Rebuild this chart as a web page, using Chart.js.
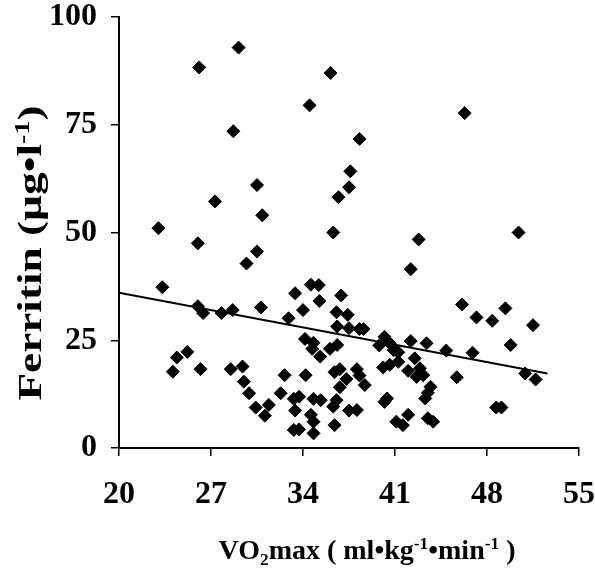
<!DOCTYPE html>
<html>
<head>
<meta charset="utf-8">
<script src="https://cdn.jsdelivr.net/npm/chart.js@4/dist/chart.umd.min.js"></script>
<style>
  html, body { margin: 0; padding: 0; background: #fff; }
  #wrap { width: 595px; height: 568px; }
</style>
</head>
<body>
<div id="wrap"><canvas id="ferritinChart"></canvas></div>
<script>
// values
const vo2max = [
  29.1, 26.1, 36.1, 34.5, 28.7, 38.3, 37.6, 37.5, 36.7, 30.5,
  27.3, 30.9, 23.0, 36.3, 26.0, 30.5, 29.7, 23.3, 33.4, 34.6,
  35.2, 36.9, 35.25, 34.0, 30.8, 28.65, 27.8, 26.0, 26.4, 32.9,
  36.55, 37.4, 36.6, 37.5, 38.3, 38.6, 34.15, 34.8, 34.7, 35.3,
  36.05, 36.6, 25.2, 24.4, 24.1, 26.2, 28.5, 29.4, 29.5, 29.9,
  30.4, 31.4, 31.1, 32.6, 32.3, 33.3, 33.7, 33.4, 34.2, 34.8,
  35.35, 34.6, 34.8, 33.3, 33.7, 34.8, 36.4, 36.8, 37.3, 36.8,
  36.55, 36.3, 36.4, 37.5, 38.1, 38.1, 38.3, 38.7, 42.8, 42.2,
  50.4, 46.1, 47.2, 48.4, 49.4, 51.5, 49.8, 50.9, 51.7, 45.7,
  46.9, 44.9, 43.4, 42.2, 40.2, 39.8, 40.6, 40.9, 41.25, 41.25,
  40.1, 40.6, 42.5, 42.0, 42.9, 42.65, 43.15, 43.7, 43.5, 43.3,
  40.4, 40.2, 41.1, 41.6, 42.0, 43.5, 43.9, 48.7, 49.1, 46.3
];
const ferritin = [
  92.9, 88.3, 87.0, 79.5, 73.5, 71.7, 64.2, 60.5, 58.2, 61.0,
  57.2, 54.0, 51.0, 50.0, 47.5, 45.6, 42.8, 37.3, 35.9, 37.9,
  37.8, 35.4, 34.1, 32.0, 32.6, 32.0, 31.3, 32.9, 31.3, 30.1,
  31.5, 30.9, 28.2, 27.8, 27.6, 27.6, 25.3, 24.4, 23.0, 21.2,
  23.0, 23.9, 22.3, 21.0, 17.7, 18.3, 18.3, 18.9, 15.4, 12.7,
  9.4, 10.0, 7.5, 16.9, 12.7, 11.4, 11.9, 8.7, 16.9, 11.4,
  11.1, 7.7, 6.1, 4.2, 4.3, 3.4, 17.6, 18.3, 16.0, 14.1,
  11.1, 9.6, 5.3, 8.7, 8.8, 18.3, 16.8, 14.6, 48.4, 41.5,
  50.0, 33.3, 30.3, 29.5, 32.4, 28.5, 23.9, 17.3, 15.9, 16.4,
  22.1, 22.6, 24.3, 24.8, 25.8, 23.8, 24.3, 22.7, 22.2, 20.0,
  18.7, 19.3, 20.8, 17.9, 18.5, 16.5, 16.9, 14.2, 12.8, 11.5,
  11.5, 10.7, 6.1, 5.3, 7.7, 6.9, 6.1, 9.4, 9.4, 77.7
];
const trendX = [20, 52.6];
const trendY = [36.0, 17.3];
const xTicks = [20, 27, 34, 41, 48, 55];
const yTicks = [0, 25, 50, 75, 100];

// title pieces: [text, shift]  shift 1 = superscript, -1 = subscript
const xTitle = [['VO', 0], ['2', -1], ['max ( ml•kg', 0], ['-1', 1], ['•min', 0], ['-1', 1], [' )', 0]];
const yTitle = [['Ferritin (µg•l', 0], ['-1', 1], [')', 0]];

const FONT = '"Liberation Serif", "Times New Roman", serif';

function drawRich(ctx, parts, size) {
  const small = size * 0.62;
  let total = 0;
  parts.forEach(([t, s]) => {
    ctx.font = `bold ${s ? small : size}px ${FONT}`;
    total += ctx.measureText(t).width;
  });
  let x = -total / 2;
  parts.forEach(([t, s]) => {
    ctx.font = `bold ${s ? small : size}px ${FONT}`;
    const dy = s === 1 ? -size * 0.36 : s === -1 ? size * 0.2 : 0;
    ctx.fillText(t, x, dy);
    x += ctx.measureText(t).width;
  });
}

const axisTitles = {
  id: 'axisTitles',
  afterDraw(chart) {
    const { ctx, chartArea } = chart;
    ctx.save();
    ctx.fillStyle = '#000';
    ctx.textBaseline = 'alphabetic';
    ctx.textAlign = 'left';
    ctx.translate(chartArea.left + 248, chartArea.bottom + 111);
    drawRich(ctx, xTitle, 28);
    ctx.restore();

    // y title, stretched along its length as in the original
    ctx.save();
    ctx.fillStyle = '#000';
    ctx.textBaseline = 'alphabetic';
    ctx.textAlign = 'left';
    ctx.translate(41, 253);
    ctx.rotate(-Math.PI / 2);
    ctx.scale(1.33, 1);
    drawRich(ctx, yTitle, 34);
    ctx.restore();
  }
};

const tickFont = { family: FONT, size: 32, weight: 'bold' };

new Chart(document.getElementById('ferritinChart'), {
  type: 'scatter',
  data: {
    datasets: [
      {
        label: 'Ferritin',
        data: vo2max.map((v, i) => ({ x: v, y: ferritin[i] })),
        pointStyle: 'rectRot',
        pointRadius: 6.5,
        backgroundColor: '#000',
        borderColor: '#000',
        borderWidth: 1
      },
      {
        type: 'line',
        label: 'Trend',
        data: trendX.map((v, i) => ({ x: v, y: trendY[i] })),
        borderColor: '#000',
        borderWidth: 2,
        pointRadius: 0,
        fill: false
      }
    ]
  },
  options: {
    responsive: true,
    maintainAspectRatio: false,
    animation: false,
    layout: { padding: { top: 17, right: 16, left: 0, bottom: 0 } },
    plugins: { legend: { display: false }, tooltip: { enabled: false } },
    scales: {
      x: {
        min: 20,
        max: 55,
        afterBuildTicks: s => { s.ticks = xTicks.map(v => ({ value: v })); },
        afterFit: s => { s.height = 120; s.paddingLeft = 0; s.paddingRight = 0; },
        grid: { drawOnChartArea: false, drawTicks: true, tickLength: 8, color: '#000', lineWidth: 1.5 },
        border: { color: '#000', width: 2 },
        ticks: { color: '#000', font: tickFont, padding: 20, maxRotation: 0 }
      },
      y: {
        min: 0,
        max: 100,
        afterBuildTicks: s => { s.ticks = yTicks.map(v => ({ value: v })); },
        afterFit: s => { s.width = 119; s.paddingTop = 0; s.paddingBottom = 0; },
        grid: { drawOnChartArea: false, drawTicks: true, tickLength: 8, color: '#000', lineWidth: 1.5 },
        border: { color: '#000', width: 2 },
        ticks: { color: '#000', font: tickFont, padding: 14 }
      }
    }
  },
  plugins: [axisTitles]
});
</script>
</body>
</html>
